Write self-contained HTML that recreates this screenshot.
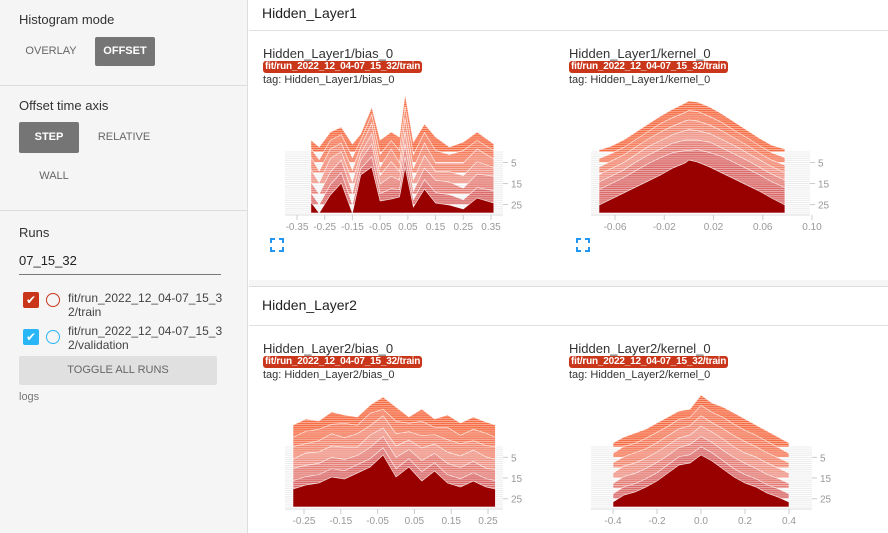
<!DOCTYPE html>
<html><head><meta charset="utf-8">
<style>
*{box-sizing:border-box}
body{margin:0;width:888px;height:533px;overflow:hidden;font-family:"Liberation Sans",sans-serif;background:#fff;position:relative}
.abs{position:absolute}
#side{left:0;top:0;width:248px;height:533px;background:#f5f5f5;border-right:1px solid #ddd}
.lbl{font-size:13px;color:#333}
.btn{font-size:11px;text-align:center;line-height:29px;border-radius:2px}
.dark{background:#757575;color:#fff;font-weight:bold}
.flat{color:#666}
.div{height:1px;background:#ddd;left:0;width:248px}
.title{font-size:13px;color:#333}
.badge{background:#c9361a;color:#fff;font-size:10px;font-weight:bold;border-radius:3px;padding:0 2px;line-height:12px;height:12px;letter-spacing:-0.2px}
.tag{font-size:11px;color:#333}
svg text{font-family:"Liberation Sans",sans-serif;font-size:10px;fill:#999}
</style></head><body>
<div id="side" class="abs">
  <div class="abs lbl" style="left:19px;top:12px">Histogram mode</div>
  <div class="abs btn flat" style="left:19px;top:37px;width:64px">OVERLAY</div>
  <div class="abs btn dark" style="left:95px;top:37px;width:60px;height:29px">OFFSET</div>
  <div class="abs div" style="top:85px"></div>
  <div class="abs lbl" style="left:19px;top:98px">Offset time axis</div>
  <div class="abs btn dark" style="left:19px;top:122px;width:60px;height:31px;line-height:31px">STEP</div>
  <div class="abs btn flat" style="left:88px;top:123px;width:72px">RELATIVE</div>
  <div class="abs btn flat" style="left:24px;top:162px;width:60px">WALL</div>
  <div class="abs div" style="top:210px"></div>
  <div class="abs lbl" style="left:19px;top:225px">Runs</div>
  <div class="abs" style="left:19px;top:253px;width:202px;height:22px;border-bottom:1px solid #777;font-size:13px;color:#222">07_15_32</div>
  <div class="abs" style="left:23px;top:292px;width:16px;height:16px;background:#c9361a;border-radius:2px;color:#fff;font-size:12px;text-align:center;line-height:16px">✔</div>
  <div class="abs" style="left:46px;top:293px;width:14px;height:14px;border:1.5px solid #c9361a;border-radius:50%"></div>
  <div class="abs" style="left:68px;top:291px;font-size:12px;color:#444;line-height:14px">fit/run_2022_12_04-07_15_3<br>2/train</div>
  <div class="abs" style="left:23px;top:329px;width:16px;height:16px;background:#29b6f6;border-radius:2px;color:#fff;font-size:12px;text-align:center;line-height:16px">✔</div>
  <div class="abs" style="left:46px;top:330px;width:14px;height:14px;border:1.5px solid #29b6f6;border-radius:50%"></div>
  <div class="abs" style="left:68px;top:324px;font-size:12px;color:#444;line-height:14px">fit/run_2022_12_04-07_15_3<br>2/validation</div>
  <div class="abs btn" style="left:19px;top:356px;width:198px;height:29px;background:#e0e0e0;color:#666;font-size:11px">TOGGLE ALL RUNS</div>
  <div class="abs" style="left:19px;top:391px;font-size:11px;color:#777">logs</div>
</div>

<div class="abs" style="left:249px;top:0;width:639px;height:31px;border-bottom:1px solid #e0e0e0"><span class="abs" style="left:13px;top:5px;font-size:14px;color:#222">Hidden_Layer1</span></div>
<div class="abs" style="left:249px;top:280px;width:639px;height:7px;background:#f5f5f5;border-bottom:1px solid #ddd"></div>
<div class="abs" style="left:249px;top:287px;width:639px;height:39px;border-bottom:1px solid #e0e0e0"><span class="abs" style="left:13px;top:10px;font-size:14px;color:#222">Hidden_Layer2</span></div>

<div class="abs title" style="left:263px;top:46px">Hidden_Layer1/bias_0</div>
<div class="abs badge" style="left:263px;top:61px">fit/run_2022_12_04-07_15_32/train</div>
<div class="abs tag" style="left:263px;top:74px">tag: Hidden_Layer1/bias_0</div>
<div class="abs title" style="left:569px;top:46px">Hidden_Layer1/kernel_0</div>
<div class="abs badge" style="left:569px;top:61px">fit/run_2022_12_04-07_15_32/train</div>
<div class="abs tag" style="left:569px;top:74px">tag: Hidden_Layer1/kernel_0</div>
<div class="abs title" style="left:263px;top:341px">Hidden_Layer2/bias_0</div>
<div class="abs badge" style="left:263px;top:356px">fit/run_2022_12_04-07_15_32/train</div>
<div class="abs tag" style="left:263px;top:369px">tag: Hidden_Layer2/bias_0</div>
<div class="abs title" style="left:569px;top:341px">Hidden_Layer2/kernel_0</div>
<div class="abs badge" style="left:569px;top:356px">fit/run_2022_12_04-07_15_32/train</div>
<div class="abs tag" style="left:569px;top:369px">tag: Hidden_Layer2/kernel_0</div>

<svg class="abs" style="left:270px;top:238px" width="14" height="14"><path d="M1 5V1H5M9 1H13V5M13 9V13H9M5 13H1V9" stroke="#2196f3" stroke-width="2" fill="none"/></svg>
<svg class="abs" style="left:576px;top:238px" width="14" height="14"><path d="M1 5V1H5M9 1H13V5M13 9V13H9M5 13H1V9" stroke="#2196f3" stroke-width="2" fill="none"/></svg>

<svg id="charts" class="abs" style="left:0;top:0" width="888" height="533">
<defs><pattern id="stripes" width="4" height="2.1" patternUnits="userSpaceOnUse"><rect x="0" y="0" width="4" height="0.7" fill="#fff" fill-opacity="0.55"/></pattern></defs>
</svg>

<script>
const steps = [0,5,10,15,20,25,29];
// Hidden_Layer1/bias_0
const l1bX = [-0.30,-0.27,-0.23,-0.19,-0.15,-0.12,-0.08,-0.05,-0.01,0.02,0.04,0.07,0.11,0.15,0.20,0.25,0.30,0.36];
const l1bS0 = [12,5,20,25,8,18,45,12,20,15,58,10,28,15,5,10,20,8];
const l1bS5 = [14,3,22,28,5,22,48,8,22,12,56,8,30,12,8,12,22,12];
const l1bS10 = [16,2,24,30,3,26,50,6,24,10,55,5,30,10,10,10,24,14];
const l1bS15 = [14,1,25,32,2,30,50,8,22,12,52,4,28,12,12,8,22,16];
const l1bS20 = [12,0,22,34,1,34,50,10,18,14,50,3,26,14,12,6,20,18];
const l1bS25 = [12,0,20,32,0,36,48,11,16,15,48,5,25,12,10,5,17,14];
const l1bS29 = [11,0,18,30,0,38,46,12,14,16,46,6,24,10,8,4,15,10];
const l1bTicks = [-0.35,-0.25,-0.15,-0.05,0.05,0.15,0.25,0.35];
const l1bLabels = ["-0.35","-0.25","-0.15","-0.05","0.05","0.15","0.25","0.35"];
// Hidden_Layer1/kernel_0
const l1kX = [-0.073,-0.063,-0.053,-0.043,-0.033,-0.023,-0.013,-0.003,0,0.007,0.017,0.027,0.037,0.047,0.057,0.067,0.078];
const l1kS0 = [2,6,12,20,28,36,43,49,51,50,45,38,30,22,14,7,3];
const l1kS5 = [4,9,15,23,31,39,45,50,52,51,46,40,32,25,17,10,5];
const l1kS10 = [6,12,18,26,34,41,47,52,53,52,48,42,35,28,20,13,8];
const l1kS15 = [9,15,21,29,37,43,49,53,54,53,50,44,38,31,24,17,11];
const l1kS20 = [12,18,24,32,39,45,51,54,54,54,52,46,40,34,27,20,14];
const l1kS25 = [15,21,27,34,41,47,52,54,54,55,52,48,42,36,30,23,17];
const l1kS29 = [8,14,20,26,32,38,45,50,53,51,46,40,34,28,22,15,8];
const l1kTicks = [-0.06,-0.02,0.02,0.06,0.10];
const l1kLabels = ["-0.06","-0.02","0.02","0.06","0.10"];
// Hidden_Layer2/bias_0
const l2bX = [-0.28,-0.245,-0.21,-0.175,-0.14,-0.105,-0.07,-0.035,0,0.035,0.07,0.105,0.14,0.175,0.21,0.245,0.27];
const l2bS0 = [22,28,26,35,32,30,42,50,40,30,38,28,32,24,30,25,22];
const l2bS5 = [20,26,28,33,34,32,44,48,36,34,36,30,30,22,28,24,20];
const l2bS10 = [21,24,27,34,30,34,42,52,34,36,32,33,28,24,27,22,21];
const l2bS15 = [19,25,26,32,31,31,43,50,32,38,30,34,26,22,28,21,19];
const l2bS20 = [20,23,25,31,29,33,41,52,31,39,28,35,25,21,27,20,19];
const l2bS25 = [18,22,24,30,28,34,40,51,30,40,27,36,24,20,26,20,18];
const l2bS29 = [18,22,24,30,28,34,40,52,30,40,26,36,24,20,26,20,18];
const l2bTicks = [-0.25,-0.15,-0.05,0.05,0.15,0.25];
const l2bLabels = ["-0.25","-0.15","-0.05","0.05","0.15","0.25"];
// Hidden_Layer2/kernel_0
const l2kX = [-0.4,-0.35,-0.3,-0.25,-0.2,-0.15,-0.1,-0.05,0,0.05,0.1,0.15,0.2,0.25,0.3,0.35,0.4];
const l2kS0 = [4,10,14,18,24,30,36,38,52,44,40,34,28,22,16,10,4];
const l2kS5 = [4,11,14,19,25,31,38,40,52,45,40,33,27,22,16,10,4];
const l2kS10 = [5,11,15,19,25,32,39,42,52,45,39,32,26,21,15,10,5];
const l2kS15 = [5,12,15,20,26,33,40,43,52,46,39,31,25,21,15,10,5];
const l2kS20 = [5,12,15,20,26,33,41,44,52,46,38,31,25,20,14,10,5];
const l2kS25 = [5,12,15,20,26,34,42,44,52,46,38,30,24,20,14,10,5];
const l2kS29 = [5,12,15,20,26,34,42,44,52,46,38,30,24,20,14,10,5];
const l2kTicks = [-0.4,-0.2,0.0,0.2,0.4];
const l2kLabels = ["-0.4","-0.2","0.0","0.2","0.4"];
const stepTicks = [5,15,25];

const NS = "http://www.w3.org/2000/svg";
const root = document.getElementById('charts');
function mk(tag, attrs, parent){const e=document.createElementNS(NS,tag);for(const k in attrs)e.setAttribute(k,attrs[k]);(parent||root).appendChild(e);return e;}
function lerp(a,b,t){return a.map((v,i)=>Math.round(v+(b[i]-v)*t));}
function color(s){
  if(s>=29) return "rgb(153,0,0)";
  const t=s/29;
  const c=t<0.5?lerp([246,110,70],[240,150,135],t/0.5):lerp([240,150,135],[210,90,95],(t-0.5)/0.5);
  return "rgb("+c.join(",")+")";
}
function chart(name, cfg){
  const g=mk('g',{});
  
  
  const x=v=>cfg.x0+(v-cfg.d0)/(cfg.d1-cfg.d0)*(cfg.x1-cfg.x0);
  const ys=s=>cfg.yTop+(s/29)*(cfg.yBase-cfg.yTop);
  for(let s=0;s<=29;s++){
    const l=mk('line',{x1:cfg.pl,x2:cfg.pr,y1:ys(s),y2:ys(s),stroke:'#ececec','stroke-width':1},g);
    
    
  }
  cfg.series.forEach((vals,i)=>{
    const s=steps[i], b=ys(s);
    let d="M"+x(cfg.xs[0])+","+b;
    cfg.xs.forEach((xv,j)=>{d+=" L"+x(xv).toFixed(1)+","+(b-vals[j]).toFixed(1);});
    d+=" L"+x(cfg.xs[cfg.xs.length-1])+","+b+" Z";
    const p=mk('path',{d:d,fill:color(s),stroke:'#fff','stroke-width':0.7,'stroke-opacity':0.8},g);
    
    
    if(s<29){
      const st=mk('path',{d:d,fill:'url(#stripes)'},g);
      
      
    }
  });
  const ax=mk('line',{x1:cfg.pl,x2:cfg.pr,y1:cfg.yBase+2,y2:cfg.yBase+2,stroke:'#ddd'},g);
  
  
  cfg.ticks.forEach((t,i)=>{
    mk('line',{x1:x(t),x2:x(t),y1:cfg.yBase+2,y2:cfg.yBase+7,stroke:'#ccc'},g);
    const tx=mk('text',{x:x(t),y:cfg.yBase+17,'text-anchor':'middle'},g);
    tx.textContent=cfg.labels[i];
    
    
  });
  stepTicks.forEach(s=>{
    mk('line',{x1:cfg.pr,x2:cfg.pr+5,y1:ys(s),y2:ys(s),stroke:'#ccc'},g);
    const tx=mk('text',{x:cfg.pr+8,y:ys(s)+4},g);
    tx.textContent=s;
    
    
  });
}
chart('chart-l1-bias',{xs:l1bX,series:[l1bS0,l1bS5,l1bS10,l1bS15,l1bS20,l1bS25,l1bS29],ticks:l1bTicks,labels:l1bLabels,d0:-0.35,d1:0.35,x0:297,x1:491,pl:285,pr:503,yTop:152,yBase:213});
chart('chart-l1-kernel',{xs:l1kX,series:[l1kS0,l1kS5,l1kS10,l1kS15,l1kS20,l1kS25,l1kS29],ticks:l1kTicks,labels:l1kLabels,d0:-0.06,d1:0.10,x0:615,x1:812,pl:591,pr:810,yTop:152,yBase:213});
chart('chart-l2-bias',{xs:l2bX,series:[l2bS0,l2bS5,l2bS10,l2bS15,l2bS20,l2bS25,l2bS29],ticks:l2bTicks,labels:l2bLabels,d0:-0.25,d1:0.25,x0:304,x1:488,pl:285,pr:503,yTop:447,yBase:507});
chart('chart-l2-kernel',{xs:l2kX,series:[l2kS0,l2kS5,l2kS10,l2kS15,l2kS20,l2kS25,l2kS29],ticks:l2kTicks,labels:l2kLabels,d0:-0.4,d1:0.4,x0:613,x1:789,pl:591,pr:812,yTop:447,yBase:507});
</script>
</body></html>
